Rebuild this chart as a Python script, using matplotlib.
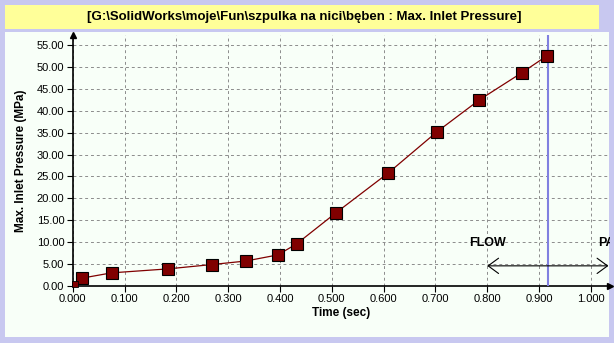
import matplotlib
matplotlib.use('Agg')
import matplotlib.pyplot as plt
from matplotlib.patches import Rectangle

plt.rcParams['font.family'] = ['Liberation Sans', 'DejaVu Sans']

# data
time_s = [0.005, 0.018, 0.075, 0.183, 0.269, 0.334, 0.396, 0.432, 0.508, 0.609, 0.703, 0.785, 0.867, 0.916]
pressure = [0.4, 1.8, 3.0, 3.9, 4.9, 5.7, 7.1, 9.6, 16.7, 25.8, 35.2, 42.5, 48.7, 52.6]
x_ticks = [0.0, 0.1, 0.2, 0.3, 0.4, 0.5, 0.6, 0.7, 0.8, 0.9, 1.0]
y_ticks = [0, 5, 10, 15, 20, 25, 30, 35, 40, 45, 50, 55]
marker_time = 0.917
title = '[G:\\SolidWorks\\moje\\Fun\\szpulka na nici\\bęben : Max. Inlet Pressure]'

W, H = 614, 343
fig = plt.figure(figsize=(W / 100, H / 100), dpi=100)
fig.patch.set_facecolor('#c8c8f0')

# title box and inner panel (pixel -> figure coords)
def box(x0, y0, x1, y1, color):
    fig.patches.append(Rectangle((x0 / W, 1 - y1 / H), (x1 - x0) / W, (y1 - y0) / H,
                                 transform=fig.transFigure, facecolor=color,
                                 edgecolor='none', zorder=-10))

box(5, 5, 599, 29, '#ffff99')
box(5, 32, 609, 337, '#f8fff8')
fig.text(304 / W, 1 - 17 / H, title, ha='center', va='center',
         fontsize=9.5, fontweight='bold')

xmax, ymax = 1.037, 57.3
ax = fig.add_axes([72.7 / W, 57 / H, (610 - 72.7) / W, (286 - 35) / H])
ax.set_facecolor('none')
ax.set_xlim(0, xmax)
ax.set_ylim(0, ymax)

ax.set_xticks(x_ticks)
ax.set_yticks(y_ticks)
ax.set_xticklabels([f'{v:.3f}' for v in x_ticks], fontsize=8)
ax.set_yticklabels([f'{v:.2f}' for v in y_ticks], fontsize=8)
ax.tick_params(direction='out', length=4, width=0.8, pad=2)
ax.grid(True, linestyle=(0, (3, 3)), color='#8c8c8c', linewidth=0.7)

for s in ['top', 'right']:
    ax.spines[s].set_visible(False)
ax.spines['left'].set_linewidth(1.2)
ax.spines['bottom'].set_linewidth(1.2)
ax.plot([0], [ymax], marker='^', color='black', markersize=5, clip_on=False)
ax.plot([xmax], [0], marker='>', color='black', markersize=5, clip_on=False)

ax.axvline(marker_time, color='#8080e0', linewidth=1.5, zorder=3)

ax.plot(time_s, pressure, color='#800000', linewidth=0.9, zorder=4)
ax.plot(time_s[1:], pressure[1:], linestyle='none', marker='s', markersize=8,
        markerfacecolor='#800000', markeredgecolor='black', markeredgewidth=0.8, zorder=5)
ax.plot(time_s[:1], pressure[:1], linestyle='none', marker='s', markersize=4,
        markerfacecolor='#800000', markeredgecolor='black', markeredgewidth=0.6,
        zorder=5, clip_on=False)

ax.text(0.80, 9.8, 'FLOW', ha='center', va='center', fontsize=9, fontweight='bold')
ax.text(1.015, 9.8, 'PA', ha='left', va='center', fontsize=9, fontweight='bold', clip_on=True)
ax.annotate('', xy=(0.80, 4.6), xytext=(1.034, 4.6),
            arrowprops=dict(arrowstyle='<->,head_length=0.75,head_width=0.55',
                            color='black', linewidth=0.8, mutation_scale=10,
                            shrinkA=0, shrinkB=0))

ax.set_xlabel('Time (sec)', fontsize=8.5, fontweight='bold', loc='left')
ax.xaxis.set_label_coords(0.4456, -0.084)
ax.set_ylabel('Max. Inlet Pressure (MPa)', fontsize=8.5, fontweight='bold')
ax.yaxis.set_label_coords(-0.085, 0.5)

fig.savefig('out.png', dpi=100)
